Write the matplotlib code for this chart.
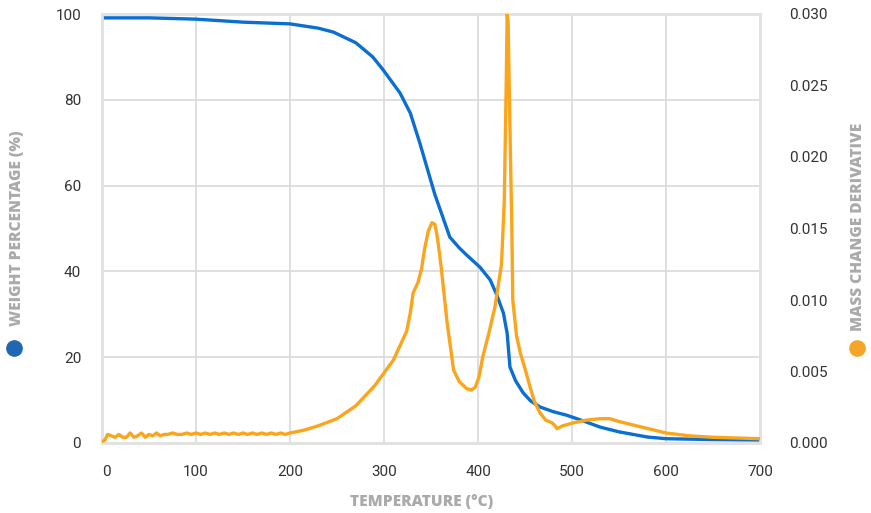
import numpy as np
import matplotlib.pyplot as plt

# weight percentage (blue)
temp_w = [0, 50, 100, 150, 200, 230, 246, 270, 288, 299, 317, 328, 338, 352, 354,
          362, 370, 380, 388, 402, 413, 420, 427, 431, 434, 440, 448, 456, 466, 480,
          494, 510, 530, 550, 580, 600, 650, 700]
weight = [99.1, 99.1, 98.8, 98.1, 97.7, 96.7, 95.8, 93.3, 90.0, 87.0, 81.6, 76.9,
          70.0, 59.5, 58.0, 53.0, 48.0, 45.5, 43.8, 41.0, 38.0, 34.5, 30.3, 25.6,
          17.7, 14.5, 11.7, 9.8, 8.4, 7.3, 6.5, 5.3, 3.7, 2.6, 1.4, 1.0, 0.8, 0.7]

# mass change derivative (orange)
temp_d = [0, 3, 6, 10, 14, 18, 22, 26, 30, 34, 38, 42, 46, 50, 54, 58, 62, 66, 70,
          75, 80, 85, 90, 95, 100, 105, 110, 115, 120, 125, 130, 135, 140, 145, 150,
          155, 160, 165, 170, 175, 180, 185, 190, 195, 200, 215, 230, 250, 270, 290,
          310, 317, 324, 328, 331, 336, 340, 343, 347, 351, 354, 356, 358, 361, 367,
          374, 380, 388, 393, 397, 401, 405, 412, 418, 425, 428, 430, 431, 432, 434,
          436, 437, 441, 445, 450, 455, 460, 466, 472, 479, 482, 484, 490, 501, 515,
          530, 540, 550, 575, 600, 625, 650, 700]
deriv = [0.0001, 0.0002, 0.0006, 0.0005, 0.0004, 0.0006, 0.0004, 0.0004, 0.0007,
         0.0004, 0.0005, 0.0007, 0.0004, 0.0006, 0.0005, 0.0007, 0.0005, 0.0006,
         0.0006, 0.0007, 0.0006, 0.0006, 0.0007, 0.0006, 0.0007, 0.0006, 0.0007,
         0.0006, 0.0007, 0.0006, 0.0007, 0.0006, 0.0007, 0.0006, 0.0007, 0.0006,
         0.0007, 0.0006, 0.0007, 0.0006, 0.0007, 0.0006, 0.0007, 0.0006, 0.0007,
         0.0009, 0.0012, 0.0017, 0.0026, 0.0040, 0.0058, 0.0068, 0.0078, 0.0091,
         0.0105, 0.0112, 0.0122, 0.0135, 0.0148, 0.0154, 0.0153, 0.0147, 0.0138,
         0.0122, 0.0085, 0.0051, 0.0043, 0.0038, 0.0037, 0.0039, 0.0046, 0.0060,
         0.0078, 0.0095, 0.0125, 0.0170, 0.0250, 0.0300, 0.0295, 0.0220, 0.0150,
         0.0100, 0.0075, 0.0063, 0.0052, 0.0040, 0.0029, 0.0021, 0.0016, 0.0014,
         0.0012, 0.0010, 0.0012, 0.0014, 0.0016, 0.0017, 0.0017, 0.0015, 0.0011,
         0.0007, 0.0005, 0.0004, 0.0003]

BLUE = '#0a6fd0'
ORANGE = '#fba51c'
GRID = '#d9d9d9'
LABEL_GRAY = '#aaaaaa'

plt.rcParams['font.family'] = ['Roboto', 'DejaVu Sans']

fig = plt.figure(figsize=(8.71, 5.13), dpi=100)
ax = fig.add_axes([102 / 871, 70 / 513, 658 / 871, 429 / 513])
ax2 = ax.twinx()

ax.plot(temp_w, weight, color=BLUE, lw=2.4, solid_joinstyle='round', zorder=3)
ax2.plot(temp_d, deriv, color=ORANGE, lw=2.4, solid_joinstyle='round', zorder=3)

ax.set_xlim(0, 700)
ax.set_ylim(0, 100)
ax2.set_ylim(0, 0.030)
ax.set_xticks(np.arange(0, 701, 100))
ax.set_yticks(np.arange(0, 101, 20))
ax2.set_yticks(np.arange(0, 0.0301, 0.005))
ax2.set_yticklabels(['%.3f' % v for v in np.arange(0, 0.0301, 0.005)])

ax.grid(True, color=GRID, lw=1.2)
ax.set_axisbelow(True)
for a in (ax, ax2):
    for s in a.spines.values():
        s.set_color('#e2e2e2')
        s.set_linewidth(2)
    a.tick_params(length=0, labelsize=11, labelcolor='#333333')
ax.tick_params(axis='x', pad=16)
ax.tick_params(axis='y', pad=15)
ax2.tick_params(axis='y', pad=21)

# nudge the first x label inside like the original
ax.get_xticklabels()[0].set_horizontalalignment('left')

lab = dict(fontsize=11.2, fontweight=800, color=LABEL_GRAY,
           family=['Open Sans', 'DejaVu Sans'])
fig.text(17 / 871, 1 - 228 / 513, 'WEIGHT PERCENTAGE (%)', rotation=90,
         ha='center', va='center', **lab)
fig.text(858 / 871, 1 - 227 / 513, 'MASS CHANGE DERIVATIVE', rotation=90,
         ha='center', va='center', **lab)
fig.text(422 / 871, 1 - 502 / 513, 'TEMPERATURE (°C)', ha='center', va='center', **lab)

fig.add_artist(plt.Line2D([14 / 871], [1 - 348 / 513], marker='o', ms=11,
                          color='#1f66b3', transform=fig.transFigure))
fig.add_artist(plt.Line2D([857 / 871], [1 - 348 / 513], marker='o', ms=11,
                          color='#f6a528', transform=fig.transFigure))

fig.savefig('out.png', dpi=100)
